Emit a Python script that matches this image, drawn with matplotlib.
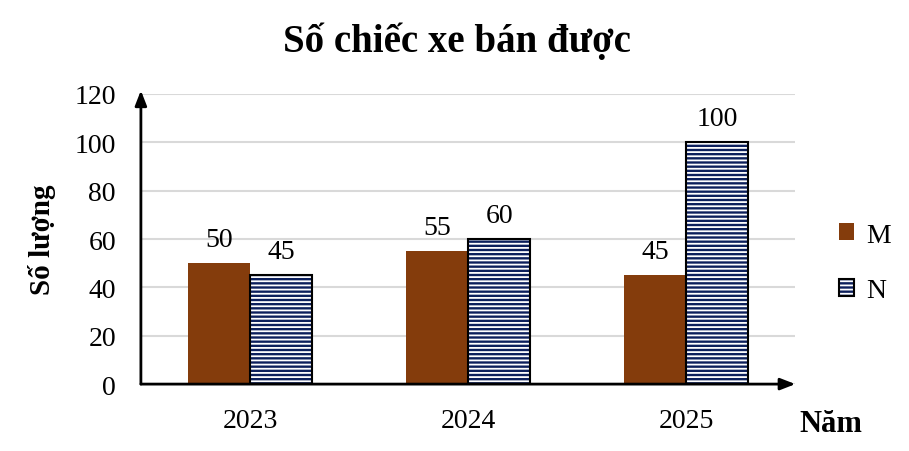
import matplotlib
matplotlib.use("Agg")
import matplotlib.pyplot as plt
import numpy as np
from matplotlib.patches import Patch
from matplotlib.legend_handler import HandlerTuple

years = ["2023", "2024", "2025"]
m_values = [50, 55, 45]
n_values = [45, 60, 100]
yticks = [0, 20, 40, 60, 80, 100, 120]

plt.rcParams['font.family'] = ['Liberation Serif', 'DejaVu Serif']
plt.rcParams['hatch.linewidth'] = 1.3

fig = plt.figure(figsize=(9.09, 4.52), dpi=100)
ax = fig.add_axes([0.155, 0.148, 0.72, 0.642])

x = np.arange(len(years))
w = 0.285
brown = '#843c0c'
navy = '#0c1f5c'

ax.bar(x - w/2, m_values, w, color=brown, edgecolor='none', zorder=3)
ax.bar(x + w/2, n_values, w, facecolor=navy, edgecolor='white', hatch='----', linewidth=0, zorder=3)
ax.bar(x + w/2, n_values, w, facecolor='none', edgecolor='black', linewidth=1.5, zorder=4)

for xi, v in zip(x - w/2, m_values):
    ax.annotate(str(v), (xi, v), xytext=(0, 8), textcoords='offset points', ha='center', va='bottom', fontsize=20)
for xi, v in zip(x + w/2, n_values):
    ax.annotate(str(v), (xi, v), xytext=(0, 8), textcoords='offset points', ha='center', va='bottom', fontsize=20)

ax.set_xlim(-0.5, 2.5)
ax.set_ylim(0, 120)
ax.set_yticks(yticks)
ax.set_yticklabels([str(t) for t in yticks], fontsize=20)
ax.set_xticks(x)
ax.set_xticklabels(years, fontsize=20)
ax.tick_params(axis='y', length=0, pad=18)
ax.tick_params(axis='x', length=0, pad=17)
ax.yaxis.grid(True, color='#d9d9d9', linewidth=1.5, zorder=0)
ax.set_axisbelow(True)
for s in ax.spines.values():
    s.set_visible(False)

ax.annotate('', xy=(0, 1.012), xycoords='axes fraction', xytext=(0, 0),
            arrowprops=dict(arrowstyle='-|>,head_width=0.35,head_length=0.9', color='black', lw=2, shrinkA=0, shrinkB=0), zorder=5)
ax.annotate('', xy=(1.0, 0), xycoords='axes fraction', xytext=(0, 0),
            arrowprops=dict(arrowstyle='-|>,head_width=0.35,head_length=0.9', color='black', lw=2, shrinkA=0, shrinkB=0), zorder=5)

ax.set_ylabel('Số lượng', fontsize=21, fontweight='bold')
ax.yaxis.set_label_coords(-0.13, 0.5)
fig.text(0.503, 0.907, 'Số chiếc xe bán được', ha='center', va='center', fontsize=28, fontweight='bold')
fig.text(0.914, 0.06, 'Năm', ha='center', va='center', fontsize=22, fontweight='bold')

h_m = Patch(facecolor=brown, edgecolor='none')
h_n = (Patch(facecolor=navy, edgecolor='white', hatch='----', linewidth=0),
       Patch(facecolor='none', edgecolor='black', linewidth=1.5))
leg = fig.legend([h_m, h_n], ['M', 'N'], loc='center left', bbox_to_anchor=(0.895, 0.416), frameon=False,
                 fontsize=20, handlelength=0.55, handleheight=0.55, labelspacing=1.1, handletextpad=0.45,
                 handler_map={tuple: HandlerTuple(ndivide=1, pad=0)})

fig.savefig('out.png', dpi=100)
